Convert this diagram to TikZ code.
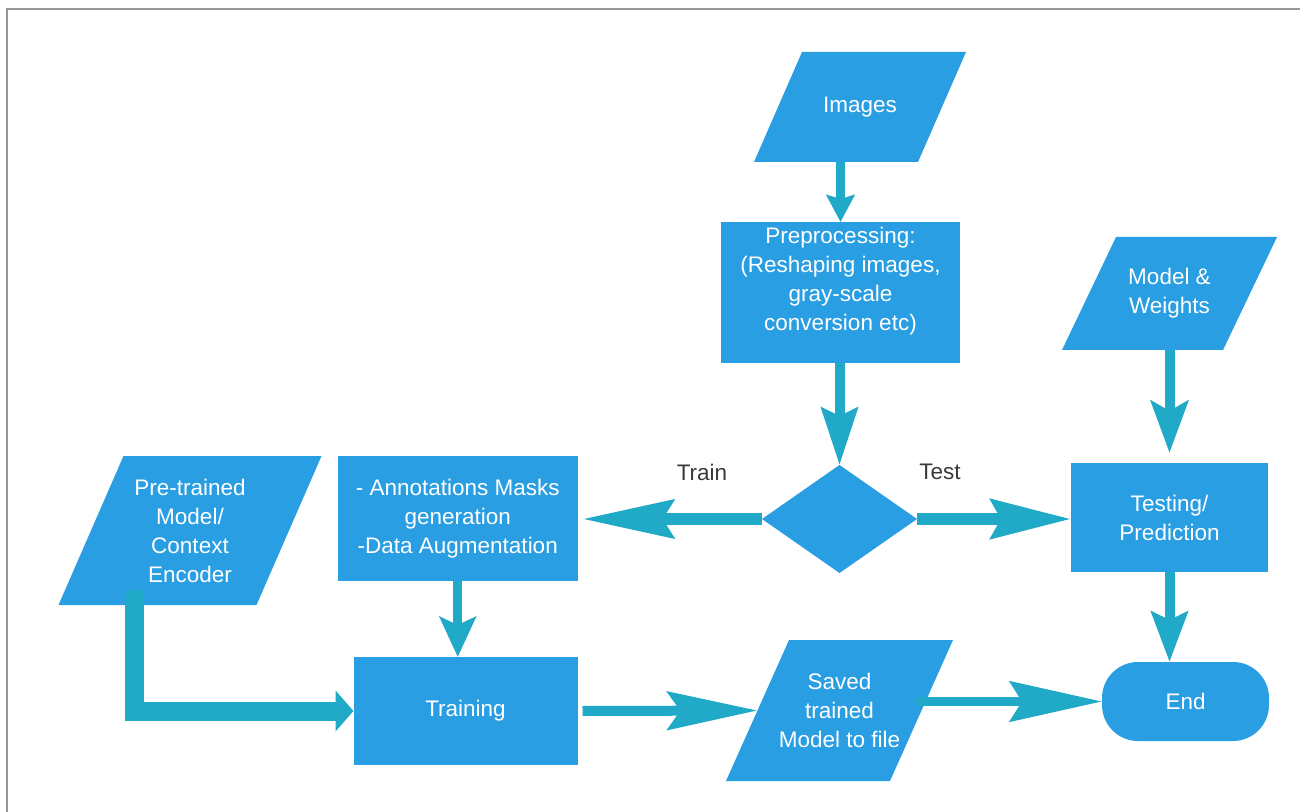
\documentclass[tikz,border=0pt]{standalone}
\usepackage{fontspec}
\setmainfont{Liberation Sans}
\usetikzlibrary{shapes.geometric,arrows.meta,calc}
\definecolor{boxblue}{RGB}{41,158,227}
\definecolor{arrowteal}{RGB}{33,170,200}
\definecolor{labelgray}{RGB}{58,58,58}
\definecolor{framegray}{RGB}{150,150,150}
\pgfdeclarelayer{background}
\pgfsetlayers{background,main}
\newcommand\parafill[2]{%
  \begin{pgfonlayer}{background}
  \fill[boxblue] ($(#1.north west)+(#2,0)$) -- ($(#1.north east)+(#2,0)$)
     -- ($(#1.south east)-(#2,0)$) -- ($(#1.south west)-(#2,0)$) -- cycle;
  \end{pgfonlayer}}
\begin{document}
\begin{tikzpicture}[x=0.5pt,y=-0.5pt,
  every node/.style={font=\fontsize{11.25pt}{14.5pt}\selectfont},
  procbox/.style={rectangle, fill=boxblue, text=white, align=center, inner sep=0pt, outer sep=0pt},
  boxtext/.style={text=white, align=center, inner sep=0pt},
  iobox/.style={rectangle, text=white, align=center, inner sep=0pt, outer sep=0pt},
  decision/.style={diamond, fill=boxblue, inner sep=0pt, outer sep=0pt},
  terminal/.style={rectangle, rounded corners=18pt, fill=boxblue, text=white, align=center, inner sep=0pt, outer sep=0pt},
  branchlabel/.style={text=labelgray, inner sep=0pt},
  flow/.style={draw=arrowteal, line width=#1, line join=miter},
]
\useasboundingbox (0,0) rectangle (1300,812);
\begin{pgfonlayer}{background}
\fill[white] (0,0) rectangle (1300,812);
\draw[framegray, line width=1.2pt] (7,812) -- (7,9) -- (1300,9);
\end{pgfonlayer}

% nodes
\node[iobox, minimum width=82pt, minimum height=55pt] (img) at (860,107) {Images};
\parafill{img}{24}
\node[procbox, minimum width=119.75pt, minimum height=70.5pt] (pre) at (840.5,292.5) {};
\node[boxtext] (pretxt) at (840.5,281) {Preprocessing:\\(Reshaping images,\\gray-scale\\conversion etc)};
\node[iobox, minimum width=80.5pt, minimum height=56.5pt] (model) at (1169.5,293.5) {Model \&\\Weights};
\parafill{model}{27}
\node[decision, minimum width=77.5pt, minimum height=54pt] (dec) at (839.5,519) {};
\node[procbox, minimum width=119.75pt, minimum height=62.5pt] (annot) at (457.75,518.5) {- Annotations Masks\\generation\\-Data Augmentation};
\node[procbox, minimum width=98.5pt, minimum height=54.5pt] (test) at (1169.5,517.5) {Testing/\\Prediction};
\node[iobox, minimum width=99pt, minimum height=74.5pt] (pretr) at (190,530.5) {Pre-trained\\Model/\\Context\\Encoder};
\parafill{pretr}{32.5}
\node[procbox, minimum width=112pt, minimum height=54pt] (train) at (465.5,711) {Training};
\node[iobox, minimum width=82pt, minimum height=70.5pt] (saved) at (839.5,710.5) {Saved\\trained\\Model to file};
\parafill{saved}{31.5}
\node[terminal, minimum width=83.5pt, minimum height=39.5pt] (endn) at (1185.5,701.5) {End};
\node[branchlabel] (trainlbl) at (702,472) {Train};
\node[branchlabel] (testlbl) at (940,472) {Test};
\coordinate (elbowstart) at (134,590);

% connectors
\draw[flow=4.5pt, -{Stealth[length=13.5pt, width=14pt, inset=2pt]}] (pre.north |- img.south) -- (pre.north);
\draw[flow=5pt, -{Stealth[length=28.5pt, width=18pt, inset=4pt]}] (pre.south -| dec.north) -- (dec.north);
\draw[flow=6pt, -{Stealth[length=45.5pt, width=19pt, inset=5.5pt]}] (dec.west) -- ([xshift=2.5pt]annot.east |- dec.west);
\draw[flow=6pt, -{Stealth[length=40pt, width=19.5pt, inset=5pt]}] (dec.east) -- (test.west |- dec.east);
\draw[flow=5pt, -{Stealth[length=26pt, width=18.5pt, inset=5pt]}] (model.south -| test.north) -- ([yshift=5pt]test.north);
\draw[flow=5pt, -{Stealth[length=25pt, width=18pt, inset=4pt]}] (test.south) -- (test.south |- endn.north);
\draw[flow=4.5pt, -{Stealth[length=20pt, width=18pt, inset=4pt]}] (annot.south) -- (annot.south |- train.north);
\draw[flow=9.5pt, -{Triangle[length=9pt, width=20pt]}] (elbowstart) |- (train.west);
\draw[flow=5pt, -{Stealth[length=45pt, width=19pt, inset=6.5pt]}] ([xshift=2.5pt]train.east) -- (saved.west);
\draw[flow=4.5pt, -{Stealth[length=46pt, width=20pt, inset=6pt]}] ([xshift=-3pt]saved.east |- endn.west) -- (endn.west);
\end{tikzpicture}
\end{document}
